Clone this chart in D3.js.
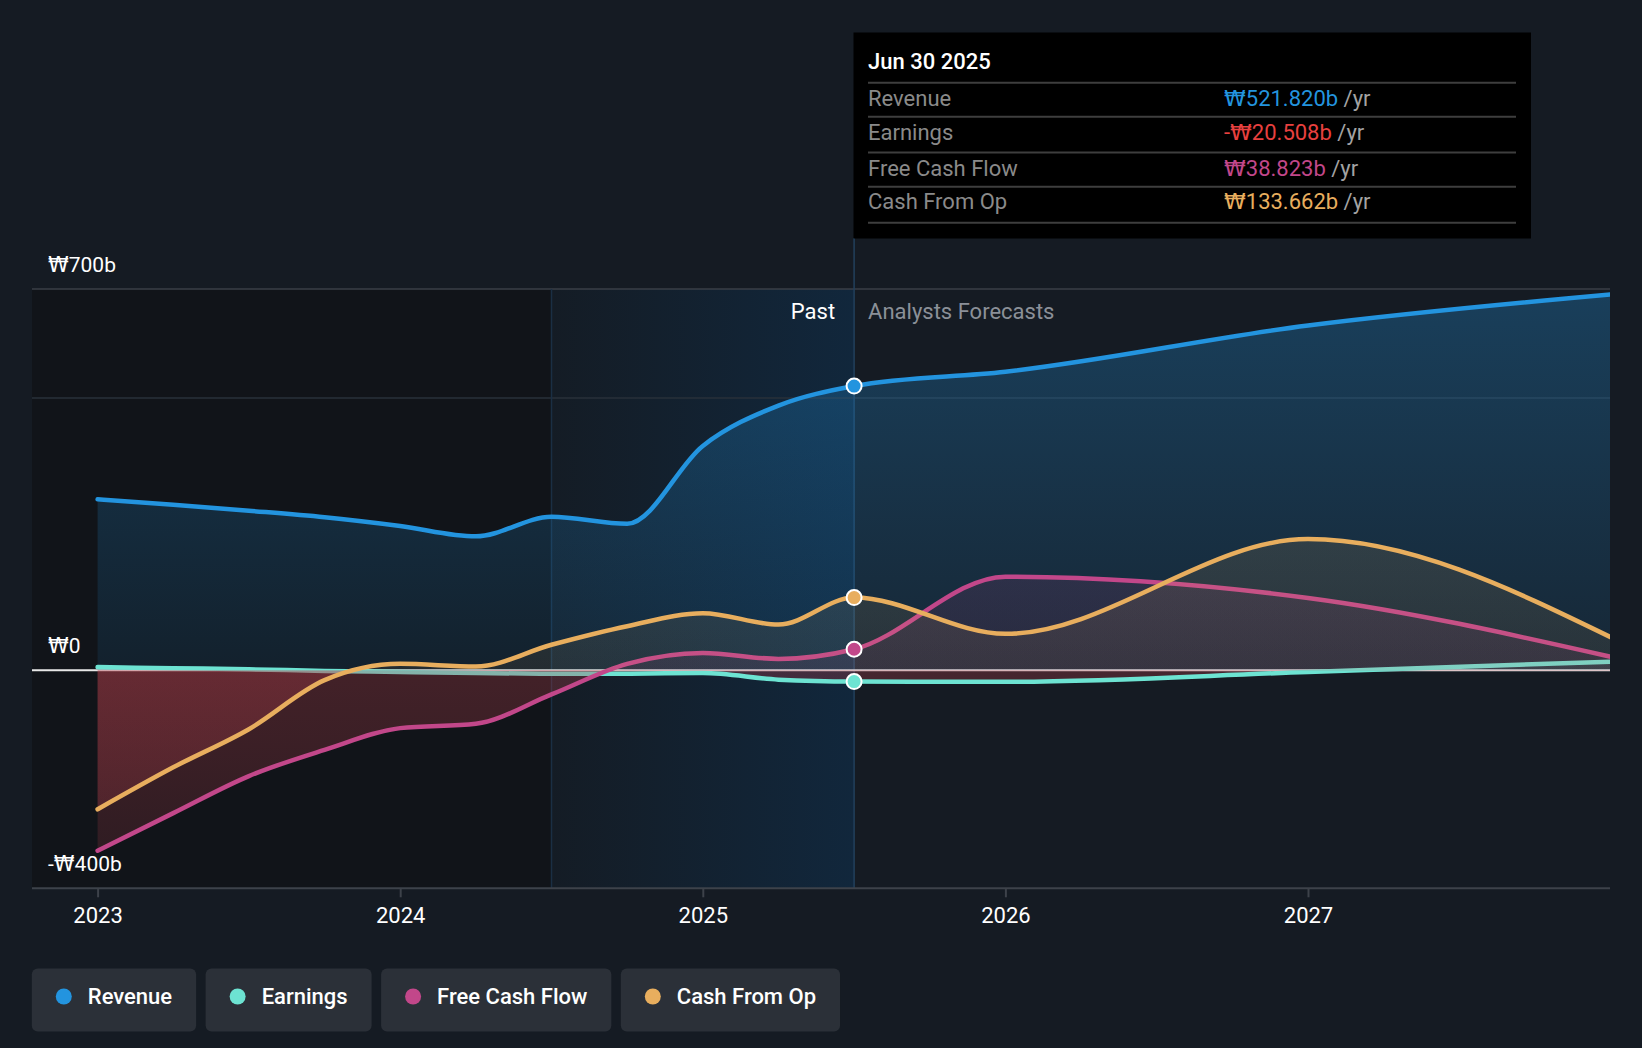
<!DOCTYPE html>
<html>
<head>
<meta charset="utf-8">
<script src="https://cdn.jsdelivr.net/npm/d3@7"></script>
<style>
  html, body { margin: 0; padding: 0; background: #151b23; }
  svg { display: block; font-family: Roboto, "DejaVu Sans", sans-serif; }
  .won { font-family: "DejaVu Sans", sans-serif; }
</style>
</head>
<body>
<svg id="chart" width="1642" height="1048"></svg>
<script>
// ---------------- DATA ----------------
const pastDates = [2023.0, 2023.25, 2023.5, 2023.75, 2024.0, 2024.25, 2024.5, 2024.75, 2025.0, 2025.25, 2025.5];
const forecastDates = [2025.5, 2026.0, 2027.0, 2028.0];

const revenuePast = [314, 304, 293, 281, 265, 246, 282, 269, 412, 486, 521.82];
const revenueForecast = [521.82, 548, 633, 690];

const earningsPast = [6, 4, 2, -1, -3, -5, -6, -6, -5, -17, -20.508];
const earningsForecast = [-20.508, -21, -3, 16];

const fcfPast = [-331, -262, -194, -146, -106, -98, -44, 12, 32, 21, 38.823];
const fcfForecast = [38.823, 172, 133, 25];

const cfoPast = [-255, -178, -108, -18, 12, 7, 47, 81, 105, 84, 133.662];
const cfoForecast = [133.662, 67, 241, 61];

const seriesNames = ["Revenue", "Earnings", "Free Cash Flow", "Cash From Op"];
const seriesColors = ["#2394df", "#6de3d2", "#c2478a", "#e8ae5e"];
const tooltipValues = ["₩521.820b", "-₩20.508b", "₩38.823b", "₩133.662b"];
const tooltipValueColors = ["#2394df", "#e8403f", "#c2478a", "#e8ae5e"];
const tooltipDate = "Jun 30 2025";

const xTickValues = [2023, 2024, 2025, 2026, 2027];
const yLabelValues = [700, 0, -400];
const yLabelTexts = ["₩700b", "₩0", "-₩400b"];
const gridValues = [700, 500];
const pastStart = 2024.5;
const nowDate = 2025.5;

// ---------------- SETUP ----------------
const svg = d3.select("#chart");
const W = 1642, H = 1048;
const plotLeft = 32, plotRight = 1610;
const x = d3.scaleLinear().domain([2023, 2028]).range([97.6, 1610.6]);
const y = d3.scaleLinear().domain([-400, 700]).range([888.3, 289]);
const yTop = y(700), yBot = y(-400), y0 = y(0);

// write text, rendering the ₩ sign with a wider fallback font
function wonText(sel, str) {
  const parts = str.split("₩");
  parts.forEach((p, i) => {
    if (i > 0) sel.append("tspan").attr("class", "won").text("₩");
    if (p.length) sel.append("tspan").text(p);
  });
  return sel;
}

const defs = svg.append("defs");
svg.append("rect").attr("width", W).attr("height", H).attr("fill", "#151b23");

// highlight gradient
const hg = defs.append("linearGradient").attr("id", "hlGrad").attr("x1", "0").attr("x2", "1").attr("y1", "0").attr("y2", "0");
hg.append("stop").attr("offset", "0").attr("stop-color", "#141c25");
hg.append("stop").attr("offset", "1").attr("stop-color", "#11273c");

// background regions
svg.append("rect").attr("x", plotLeft).attr("y", yTop).attr("width", x(pastStart) - plotLeft).attr("height", yBot - yTop).attr("fill", "#111419");
svg.append("rect").attr("x", x(pastStart)).attr("y", yTop).attr("width", x(nowDate) - x(pastStart)).attr("height", yBot - yTop).attr("fill", "url(#hlGrad)");

// gridlines
svg.append("g").selectAll("line").data(gridValues).join("line")
  .attr("x1", plotLeft).attr("x2", plotRight)
  .attr("y1", d => y(d)).attr("y2", d => y(d))
  .attr("stroke", (d, i) => i === 0 ? "#3a3f47" : "#29303a").attr("stroke-width", 1.5);

// vertical markers
svg.append("line").attr("x1", x(pastStart)).attr("x2", x(pastStart)).attr("y1", yTop).attr("y2", yBot).attr("stroke", "#1a2f44").attr("stroke-width", 1.5);
svg.append("line").attr("x1", x(nowDate)).attr("x2", x(nowDate)).attr("y1", 238).attr("y2", yBot).attr("stroke", "#22405c").attr("stroke-width", 1.5);

// zero line
svg.append("line").attr("x1", plotLeft).attr("x2", plotRight).attr("y1", y0).attr("y2", y0).attr("stroke", "#e8e8e8").attr("stroke-width", 2);

// clip paths
defs.append("clipPath").attr("id", "clipPos").append("rect").attr("x", plotLeft).attr("y", 0).attr("width", plotRight - plotLeft).attr("height", y0);
defs.append("clipPath").attr("id", "clipNeg").append("rect").attr("x", plotLeft).attr("y", y0).attr("width", plotRight - plotLeft).attr("height", H - y0);
defs.append("clipPath").attr("id", "clipPlot").append("rect").attr("x", plotLeft).attr("y", 0).attr("width", plotRight - plotLeft).attr("height", H);

// gradients per series
const fillOps = [[0.30, 0.10], [0.20, 0.08], [0.22, 0.10], [0.20, 0.08]];
seriesColors.forEach((c, i) => {
  const g = defs.append("linearGradient").attr("id", "g" + i).attr("gradientUnits", "userSpaceOnUse")
    .attr("x1", 0).attr("x2", 0).attr("y1", yTop).attr("y2", y0);
  g.append("stop").attr("offset", "0").attr("stop-color", c).attr("stop-opacity", fillOps[i][0]);
  g.append("stop").attr("offset", "1").attr("stop-color", c).attr("stop-opacity", fillOps[i][1]);
});
const rg = defs.append("linearGradient").attr("id", "gNeg").attr("gradientUnits", "userSpaceOnUse")
  .attr("x1", 0).attr("x2", 0).attr("y1", y0).attr("y2", yBot);
rg.append("stop").attr("offset", "0").attr("stop-color", "#b8404c").attr("stop-opacity", 0.30);
rg.append("stop").attr("offset", "1").attr("stop-color", "#b8404c").attr("stop-opacity", 0.16);

const allDates = pastDates.concat(forecastDates.slice(1));
const seriesData = [
  revenuePast.concat(revenueForecast.slice(1)),
  earningsPast.concat(earningsForecast.slice(1)),
  fcfPast.concat(fcfForecast.slice(1)),
  cfoPast.concat(cfoForecast.slice(1))
].map(vals => vals.map((v, i) => ({ d: allDates[i], v })));

const line = d3.line().x(p => x(p.d)).y(p => y(p.v)).curve(d3.curveMonotoneX);
const area = d3.area().x(p => x(p.d)).y0(y0).y1(p => y(p.v)).curve(d3.curveMonotoneX);

const gSeries = svg.append("g").attr("clip-path", "url(#clipPlot)");
seriesData.forEach((data, i) => {
  const g = gSeries.append("g");
  g.append("path").datum(data).attr("d", area).attr("fill", `url(#g${i})`).attr("clip-path", "url(#clipPos)");
  g.append("path").datum(data).attr("d", area).attr("fill", "url(#gNeg)").attr("clip-path", "url(#clipNeg)");
  g.append("path").datum(data).attr("d", line).attr("fill", "none").attr("stroke", seriesColors[i]).attr("stroke-width", 4.5).attr("stroke-linecap", "round");
});

// dots at now
seriesData.forEach((data, i) => {
  const p = data.find(q => q.d === nowDate);
  svg.append("circle").attr("cx", x(p.d)).attr("cy", y(p.v)).attr("r", 7.5)
    .attr("fill", seriesColors[i]).attr("stroke", "#ffffff").attr("stroke-width", 2);
});

// Past / Analysts Forecasts labels
svg.append("text").attr("x", x(nowDate) - 19).attr("y", 319).attr("text-anchor", "end")
  .attr("fill", "#ffffff").attr("font-size", 22).text("Past");
svg.append("text").attr("x", x(nowDate) + 14).attr("y", 319)
  .attr("fill", "#8b9098").attr("font-size", 22).text("Analysts Forecasts");

// y labels
svg.append("g").selectAll("text").data(yLabelValues).join("text")
  .attr("x", 48).attr("y", d => y(d) - 17)
  .attr("fill", "#ffffff").attr("font-size", 21)
  .each(function(d, i) { wonText(d3.select(this), yLabelTexts[i]); });

// x axis
const xAxis = d3.axisBottom(x).tickValues(xTickValues).tickFormat(d3.format("d")).tickSize(9).tickPadding(10);
const ax = svg.append("g").attr("transform", `translate(0,${yBot})`).call(xAxis);
ax.select(".domain").remove();
ax.selectAll(".tick line").attr("stroke", "#3d424a").attr("stroke-width", 2);
ax.selectAll(".tick text").attr("fill", "#ffffff").attr("font-size", 22).attr("font-family", "Roboto, sans-serif");
svg.append("line").attr("x1", plotLeft).attr("x2", plotRight).attr("y1", yBot).attr("y2", yBot).attr("stroke", "#3d424a").attr("stroke-width", 2);

// tooltip
const tt = svg.append("g");
tt.append("rect").attr("x", 853.5).attr("y", 32.5).attr("width", 677.5).attr("height", 206).attr("fill", "#000000");
tt.append("text").attr("x", 868).attr("y", 69).attr("fill", "#ffffff").attr("font-size", 22).attr("font-weight", 500).text(tooltipDate);
const sepYs = [82.7, 116.7, 152.5, 186.7, 222.7];
tt.selectAll("line.sep").data(sepYs).join("line").attr("class", "sep")
  .attr("x1", 868).attr("x2", 1516).attr("y1", d => d).attr("y2", d => d)
  .attr("stroke", "#3e3e3e").attr("stroke-width", 2);
const rowYs = [106, 139.5, 175.5, 209];
seriesNames.forEach((n, i) => {
  tt.append("text").attr("x", 868).attr("y", rowYs[i]).attr("fill", "#8a8a8a").attr("font-size", 22).text(n);
  const t = tt.append("text").attr("x", 1224).attr("y", rowYs[i]).attr("font-size", 22);
  const v = t.append("tspan").attr("fill", tooltipValueColors[i]);
  wonText(v, tooltipValues[i]);
  t.append("tspan").attr("fill", "#a3a3a3").text(" /yr");
});

// legend
const lg = svg.append("g");
let lx = 31.8;
seriesNames.forEach((n, i) => {
  const g = lg.append("g");
  const rect = g.append("rect").attr("x", lx).attr("y", 968.5).attr("height", 63).attr("rx", 6).attr("fill", "#2b3038");
  g.append("circle").attr("cx", lx + 32).attr("cy", 996.5).attr("r", 8).attr("fill", seriesColors[i]);
  const t = g.append("text").attr("x", lx + 56).attr("y", 1004).attr("fill", "#ffffff").attr("font-size", 22).attr("font-weight", 500).text(n);
  const w = 56 + t.node().getComputedTextLength() + 24;
  rect.attr("width", w);
  lx += w + 9.5;
});
</script>
</body>
</html>
